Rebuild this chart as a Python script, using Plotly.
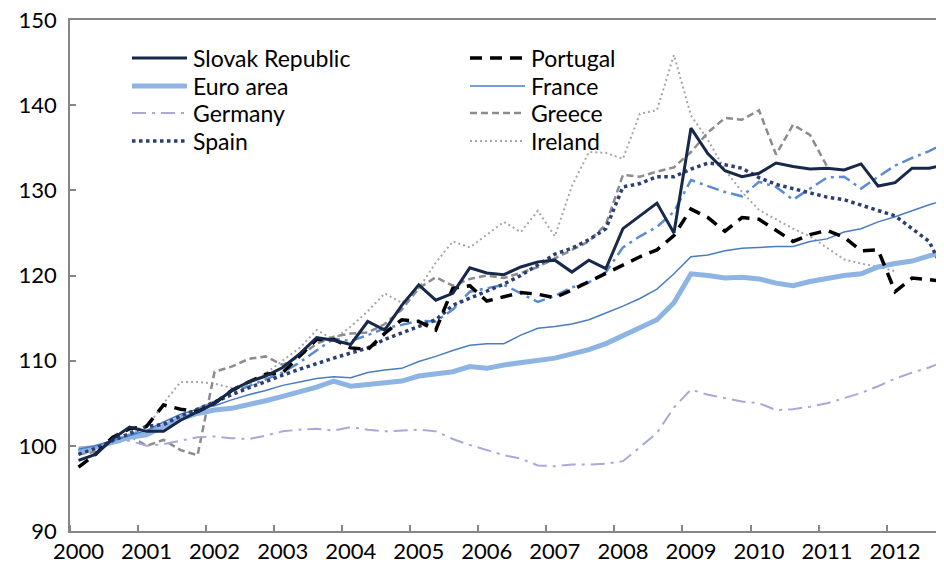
import plotly.graph_objects as go

# Quarterly index values, 2000Q1 onwards
slovak = [98.3, 99.0, 100.8, 102.2, 101.7, 101.7, 103.0, 104.0, 105.0, 106.5, 107.5, 108.2,
          109.2, 110.8, 112.7, 112.4, 111.9, 114.6, 113.6, 116.5, 118.9, 117.1, 117.9, 120.9,
          120.3, 120.1, 121.0, 121.6, 121.8, 120.4, 121.8, 120.8, 125.5, 127.0, 128.5, 125.0,
          137.3, 134.3, 132.3, 131.6, 132.0, 133.2, 132.8, 132.5, 132.6, 132.4, 133.1, 130.5,
          130.9, 132.6, 132.6, 133.0]
portugal = [97.5, 99.0, 101.0, 102.0, 102.3, 104.8, 104.3, 104.0, 105.0, 106.5, 107.5, 108.4,
            108.6, 110.5, 112.5, 112.5, 111.5, 111.3, 113.2, 114.8, 114.6, 113.6, 118.5, 118.8,
            117.0, 117.5, 118.0, 117.8, 117.4, 118.3, 119.3, 120.2, 121.3, 122.2, 123.0, 124.7,
            127.8, 126.8, 125.2, 126.8, 126.6, 125.3, 124.0, 124.8, 125.3, 124.5, 122.9, 123.0,
            118.1, 119.7, 119.5, 119.3]
euro_area = [99.3, 99.8, 100.4, 101.0, 101.3, 102.3, 103.2, 103.8, 104.2, 104.4, 104.8, 105.3,
             105.8, 106.3, 106.9, 107.6, 107.0, 107.2, 107.4, 107.6, 108.2, 108.5, 108.7, 109.3,
             109.1, 109.5, 109.8, 110.0, 110.3, 110.8, 111.3, 112.0, 112.9, 113.9, 114.8, 116.8,
             120.2, 120.0, 119.7, 119.8, 119.6, 119.1, 118.8, 119.3, 119.7, 120.0, 120.2, 121.0,
             121.4, 121.7, 122.3, 122.8]
france = [99.6, 100.0, 100.6, 101.2, 101.8, 102.8, 103.7, 104.3, 104.7, 105.4, 106.0, 106.5,
          107.1, 107.5, 107.9, 108.1, 108.0, 108.6, 108.9, 109.1, 109.9, 110.5, 111.2, 111.8,
          112.0, 112.0, 113.0, 113.8, 114.0, 114.3, 114.8, 115.6, 116.4, 117.3, 118.4, 120.2,
          122.2, 122.4, 122.9, 123.2, 123.3, 123.4, 123.4, 124.0, 124.3, 125.1, 125.5, 126.3,
          126.9, 127.6, 128.3, 128.9]
germany = [99.8, 100.0, 100.3, 100.6, 100.0, 100.2, 100.6, 101.0, 101.1, 100.9, 100.8, 101.2,
           101.7, 101.9, 102.0, 101.8, 102.2, 101.9, 101.7, 101.8, 101.9, 101.7, 100.8, 100.1,
           99.5, 98.9, 98.5, 97.7, 97.6, 97.8, 97.8, 97.9, 98.2, 99.8, 101.5, 104.5,
           106.6, 106.0, 105.6, 105.2, 105.0, 104.2, 104.3, 104.6, 105.0, 105.6, 106.2, 107.0,
           107.9, 108.6, 109.2, 110.0]
greece = [99.0, 99.3, 100.5, 101.2, 100.0, 100.7, 99.5, 98.9, 108.7, 109.3, 110.2, 110.5,
          109.5, 110.5, 112.0, 112.8, 113.2, 113.3, 114.3, 116.0, 118.5, 119.8, 118.8, 119.6,
          120.0, 119.7, 120.3, 121.0, 122.0, 123.0, 124.0, 126.0, 131.8, 131.6, 132.2, 132.7,
          134.5, 136.8, 138.5, 138.3, 139.4, 134.2, 137.7, 136.5, 132.8]
spain = [99.0, 99.7, 100.6, 101.5, 102.3, 102.5, 103.5, 104.3, 105.2, 106.0, 106.8, 107.6,
         108.3, 109.0, 109.7, 110.3, 110.9, 111.5, 112.5, 113.3, 114.0, 114.8, 116.5, 117.3,
         118.2, 119.0, 120.0, 121.2, 122.5, 123.2, 124.2, 125.5, 130.4, 130.8, 131.6, 131.6,
         132.5, 133.2, 133.0, 132.6, 131.5, 130.7, 130.2, 129.6, 129.2, 128.9, 128.3, 127.7,
         127.0, 125.5, 124.0, 120.0]
ireland = [99.3, 99.8, 100.6, 101.5, 102.1, 105.0, 107.5, 107.5, 107.3, 106.8, 107.2, 108.5,
           110.0, 111.5, 113.6, 112.5, 114.0, 115.8, 117.9, 116.8, 118.5, 121.5, 124.0, 123.3,
           124.8, 126.3, 125.1, 127.6, 124.6, 130.5, 134.5, 134.4, 133.7, 139.0, 139.4, 145.9,
           138.8, 135.9, 132.4, 129.8, 127.7, 126.6, 125.5, 124.6, 123.2, 121.9, 121.4, 121.0,
           120.5]
other = [99.5, 99.8, 100.5, 101.3, 101.8, 102.3, 103.4, 104.3, 105.2, 106.3, 107.0, 107.8,
         108.6, 109.8, 111.2, 112.6, 112.3, 113.0, 113.8, 114.2, 114.7, 114.6, 116.0, 118.1,
         118.5, 118.9, 117.9, 116.9, 117.6, 118.6, 119.2, 120.4, 123.3, 124.6, 125.7, 127.5,
         131.2, 130.5, 129.8, 129.3, 131.0, 130.4, 128.9, 130.2, 131.5, 131.6, 130.2, 131.6,
         132.9, 133.8, 134.6, 135.6]

years = list(range(2000, 2013))
year_labels = [str(y) for y in years]
start_year = 2000

# Legend layout: two columns, row-major order
legend_order = ["Slovak Republic", "Portugal", "Euro area", "France",
                "Germany", "Greece", "Spain", "Ireland"]


def qx(values):
    return [start_year + (i + 0.5) / 4 for i in range(len(values))]


styles = {
    # name: (data, color, width, dash)
    "Other": (other, "#5B8BD3", 2.5, "12px,5px,3px,5px"),
    "Ireland": (ireland, "#A6A6A6", 2, "2px,3px"),
    "Greece": (greece, "#8C8C8C", 2.5, "7px,4px"),
    "Germany": (germany, "#A8A8DA", 2, "14px,6px,3px,6px"),
    "Euro area": (euro_area, "#8DB4E2", 5, "solid"),
    "France": (france, "#4A7CC4", 1.5, "solid"),
    "Spain": (spain, "#2C3F73", 3.5, "dot"),
    "Portugal": (portugal, "#000000", 3.5, "12px,8px"),
    "Slovak Republic": (slovak, "#17284A", 3, "solid"),
}

fig = go.Figure()
for name, (data, color, width, dash) in styles.items():
    fig.add_trace(go.Scatter(
        x=qx(data), y=data, mode="lines", name=name,
        line=dict(color=color, width=width, dash=dash),
        showlegend=False,
    ))

# Page has an 8px body margin; figure is sized so the plot area lands at
# page pixels x 70..944, y 20..531.
OFF = 8
PL, PW, PT, PH = 70, 874, 20, 511
FIG_W, FIG_H = 944 - OFF, 562 - OFF
col_line_x = [(132, 187), (470, 525)]
col_text_x = [193, 531]
row_y = [58, 86, 113, 141]


def px2x(p):
    return (p - PL) / PW


def py2y(p):
    return 1 - (p - PT) / PH


font_family = "Lato, 'Open Sans', sans-serif"
shapes = []
annotations = []
for k, name in enumerate(legend_order):
    r, c = divmod(k, 2)
    _, color, width, dash = styles[name]
    y = py2y(row_y[r])
    x0, x1 = col_line_x[c]
    shapes.append(dict(type="line", xref="paper", yref="paper",
                       x0=px2x(x0), x1=px2x(x1), y0=y, y1=y,
                       line=dict(color=color, width=width, dash=dash)))
    annotations.append(dict(xref="paper", yref="paper", x=px2x(col_text_x[c]), y=y,
                            xanchor="left", yanchor="middle", text=name, showarrow=False,
                            xshift=-2,
                            font=dict(size=23, family=font_family, color="#000000")))

fig.update_layout(
    width=FIG_W, height=FIG_H,
    margin=dict(l=PL - OFF, r=0, t=PT - OFF, b=FIG_H - (PT - OFF) - PH, autoexpand=False),
    paper_bgcolor="white", plot_bgcolor="white",
    font=dict(family=font_family, size=22, color="#000000"),
    showlegend=False,
    shapes=shapes,
    annotations=annotations,
    xaxis=dict(
        range=[2000, 2000 + PW / 68.05],
        tickmode="array",
        tickvals=[y + 0.125 for y in years],
        ticktext=year_labels,
        ticks="",
        showline=True, linecolor="#868686", linewidth=1.5, mirror=True,
        showgrid=False, zeroline=False, automargin=False,
        minor=dict(tickmode="array", tickvals=years, ticks="inside", ticklen=6,
                   tickcolor="#868686", tickwidth=1.5, showgrid=False),
        tickfont=dict(size=22), ticklabelstandoff=0, ticklabeloverflow="allow",
    ),
    yaxis=dict(
        range=[90, 150], tickmode="linear", tick0=90, dtick=10,
        ticks="inside", ticklen=6, tickcolor="#868686", tickwidth=1.5,
        showline=True, linecolor="#868686", linewidth=1.5,
        showgrid=False, zeroline=False, automargin=False,
        tickfont=dict(size=22), ticklabelstandoff=7, ticklabeloverflow="allow",
    ),
)

fig.write_html("out.html")
